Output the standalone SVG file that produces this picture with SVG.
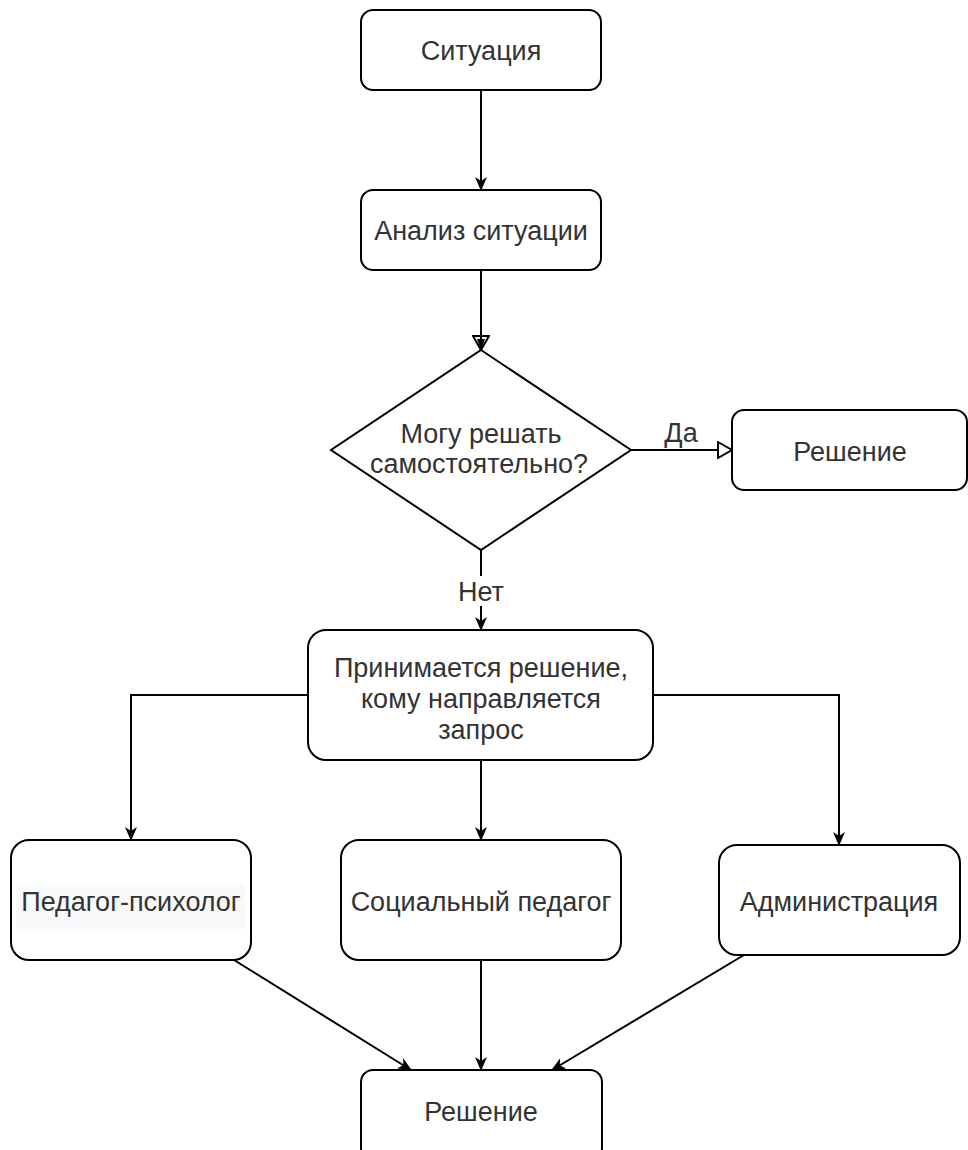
<svg xmlns="http://www.w3.org/2000/svg" width="968" height="1150" viewBox="0 0 968 1150">
<defs>
<style>
.box{fill:#fff;stroke:#000;stroke-width:2}
.t{font-family:"Liberation Sans",Arial,sans-serif;font-size:27px;fill:#333;text-anchor:middle}
.c{fill:none;stroke:#000;stroke-width:2}
</style>
<marker id="arr" viewBox="0 0 14 12" refX="13" refY="6" markerWidth="14" markerHeight="12" markerUnits="userSpaceOnUse" orient="auto">
<path d="M0,0 L14,6 L0,12 L4,6 Z" fill="#000"/>
</marker>
<marker id="open" viewBox="0 0 16 18" refX="15" refY="9" markerWidth="16" markerHeight="18" markerUnits="userSpaceOnUse" orient="auto">
<path d="M1,1 L15,9 L1,17 Z" fill="#fff" stroke="#000" stroke-width="2"/>
</marker>
<marker id="open2" viewBox="0 0 16 18" refX="15" refY="9" markerWidth="16" markerHeight="18" markerUnits="userSpaceOnUse" orient="auto">
<path d="M1,1 L15,9 L1,17 Z" fill="none" stroke="#000" stroke-width="2"/>
<path d="M4,5 L15,9 L4,13 Z" fill="#000"/>
</marker>
</defs>
<g id="connectors">
<path class="c" d="M481,90 L481,190" marker-end="url(#arr)"/>
<path class="c" d="M481,270 L481,350" marker-end="url(#open2)"/>
<path class="c" d="M631,450 L732,450" marker-end="url(#open)"/>
<path class="c" d="M481,550 L481,630" marker-end="url(#arr)"/>
<path class="c" d="M308,695 L131,695 L131,840" marker-end="url(#arr)"/>
<path class="c" d="M481,760 L481,840" marker-end="url(#arr)"/>
<path class="c" d="M653,695 L839,695 L839,845" marker-end="url(#arr)"/>
<path class="c" d="M234,960 L411,1070" marker-end="url(#arr)"/>
<path class="c" d="M481,960 L481,1070" marker-end="url(#arr)"/>
<path class="c" d="M744,955 L552,1070" marker-end="url(#arr)"/>
<rect x="458" y="576" width="46" height="30" fill="#fff"/>
<text class="t" x="481" y="601">Нет</text>
<text class="t" x="681" y="442">Да</text>
</g>
<g id="situation">
<rect class="box" x="361" y="10" width="240" height="80" rx="12"/>
<text class="t" x="481" y="60">Ситуация</text>
</g>
<g id="analysis">
<rect class="box" x="361" y="190" width="240" height="80" rx="12"/>
<text class="t" x="481" y="240">Анализ ситуации</text>
</g>
<g id="decision">
<polygon class="box" points="481,350 631,450 481,550 331,450"/>
<text class="t" x="481" y="443">Могу решать</text>
<text class="t" x="479" y="473">самостоятельно?</text>
</g>
<g id="solution-yes">
<rect class="box" x="732" y="410" width="235" height="80" rx="12"/>
<text class="t" x="850" y="461">Решение</text>
</g>
<g id="route">
<rect class="box" x="308" y="630" width="345" height="130" rx="18"/>
<text class="t" x="481" y="677">Принимается решение,</text>
<text class="t" x="481" y="708">кому направляется</text>
<text class="t" x="481" y="739">запрос</text>
</g>
<g id="psychologist">
<rect class="box" x="11" y="840" width="240" height="120" rx="18"/>
<rect x="16" y="885" width="229" height="44" fill="#f8f9fa"/>
<text class="t" x="131" y="911">Педагог-психолог</text>
</g>
<g id="social">
<rect class="box" x="341" y="840" width="280" height="120" rx="18"/>
<text class="t" x="481" y="911">Социальный педагог</text>
</g>
<g id="admin">
<rect class="box" x="719" y="845" width="241" height="110" rx="18"/>
<text class="t" x="839" y="911">Администрация</text>
</g>
<g id="solution-final">
<rect class="box" x="361" y="1070" width="241" height="90" rx="12"/>
<text class="t" x="481" y="1121">Решение</text>
</g>
</svg>
